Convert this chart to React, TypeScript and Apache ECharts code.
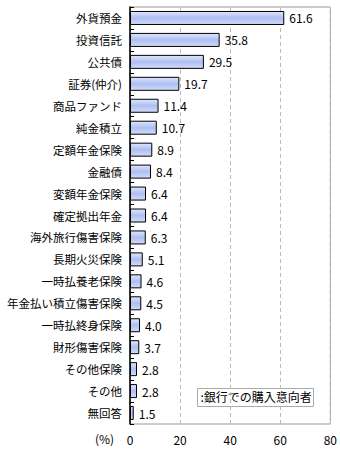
import React, { useEffect, useRef } from "react";
import * as echarts from "echarts";

const categories = [
  "外貨預金",
  "投資信託",
  "公共債",
  "証券(仲介)",
  "商品ファンド",
  "純金積立",
  "定額年金保険",
  "金融債",
  "変額年金保険",
  "確定拠出年金",
  "海外旅行傷害保険",
  "長期火災保険",
  "一時払養老保険",
  "年金払い積立傷害保険",
  "一時払終身保険",
  "財形傷害保険",
  "その他保険",
  "その他",
  "無回答",
];
const values = [61.6, 35.8, 29.5, 19.7, 11.4, 10.7, 8.9, 8.4, 6.4, 6.4, 6.3, 5.1, 4.6, 4.5, 4.0, 3.7, 2.8, 2.8, 1.5];
const legendText = ":銀行での購入意向者";
const unitText = "(%)";

const FONT = "'Noto Sans CJK JP', sans-serif";

export default function App() {
  const ref = useRef<HTMLDivElement>(null);
  useEffect(() => {
    if (!ref.current) return;
    const chart = echarts.init(ref.current, null, { renderer: "svg" });
    chart.setOption({
      animation: false,
      backgroundColor: "#fff",
      textStyle: { fontFamily: FONT },
      grid: {
        left: 130,
        right: 9,
        top: 7,
        bottom: 31,
        show: true,
        borderColor: "#999",
        borderWidth: 1,
        backgroundColor: "transparent",
      },
      xAxis: {
        type: "value",
        min: 0,
        max: 80,
        interval: 20,
        axisLine: { show: false },
        axisTick: { show: false },
        splitLine: { show: true, lineStyle: { color: "#bbb", type: [4, 3], width: 1 } },
        axisLabel: { color: "#000", fontSize: 12, margin: 9, fontFamily: FONT },
      },
      yAxis: {
        type: "category",
        data: categories,
        inverse: true,
        axisLine: { show: true, lineStyle: { color: "#000", width: 1.5 } },
        axisTick: { show: true, inside: true, length: 4, lineStyle: { color: "#000" } },
        axisLabel: { color: "#000", fontSize: 11.5, margin: 8, fontFamily: FONT },
        splitLine: { show: false },
      },
      series: [
        {
          type: "bar",
          data: values,
          barWidth: 14,
          itemStyle: {
            color: new echarts.graphic.LinearGradient(0, 0, 0, 1, [
              { offset: 0, color: "#dfe6fc" },
              { offset: 0.5, color: "#aebef2" },
              { offset: 1, color: "#d3dcf9" },
            ]),
            borderColor: "#000",
            borderWidth: 1,
          },
          label: {
            show: true,
            position: "right",
            distance: 5,
            color: "#000",
            fontSize: 12,
            fontFamily: FONT,
            formatter: (p: any) => Number(p.value).toFixed(1),
          },
        },
      ],
      graphic: [
        {
          type: "text",
          left: 95,
          top: 432,
          style: { text: unitText, fill: "#000", fontSize: 12, fontFamily: FONT },
        },
        {
          type: "group",
          left: 197,
          top: 388,
          children: [
            {
              type: "rect",
              shape: { x: 0, y: 0, width: 116, height: 18 },
              style: { fill: "#fff", stroke: "#aaa", lineWidth: 1 },
            },
            {
              type: "text",
              x: 3,
              y: 2,
              style: { text: legendText, fill: "#000", fontSize: 12, fontFamily: FONT },
            },
          ],
        },
      ],
    });
    return () => chart.dispose();
  }, []);
  return (
    <div
      ref={ref}
      style={{ position: "absolute", left: 0, top: 0, width: 340, height: 455 }}
    />
  );
}
